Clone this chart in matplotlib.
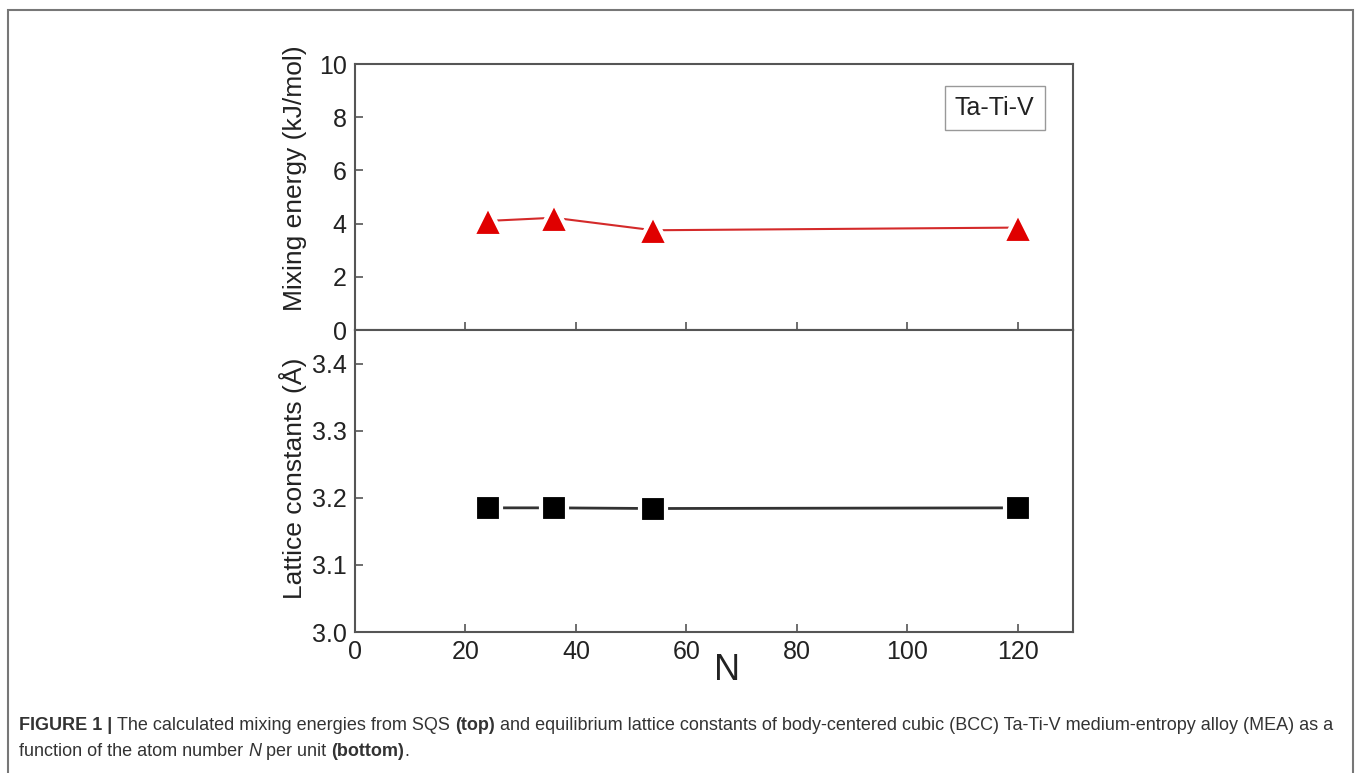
import matplotlib
matplotlib.use("Agg")
import matplotlib.pyplot as plt
from matplotlib.patches import Rectangle

plt.rcParams['font.family'] = ['Liberation Sans', 'DejaVu Sans']

# data
n_atoms = [24, 36, 54, 120]
mix_energy = [4.1, 4.22, 3.75, 3.85]        # kJ/mol
lattice_const = [3.185, 3.185, 3.184, 3.185]  # Angstrom

top_yticks = [0, 2, 4, 6, 8, 10]
bot_yticks = [3.0, 3.1, 3.2, 3.3, 3.4]
xticks = [0, 20, 40, 60, 80, 100, 120]

spine_c = '#555555'
txt_c = '#222222'

fig = plt.figure(figsize=(13.58, 7.73), dpi=100)

W, H = 1358, 773
def frac(x0, y0, x1, y1):
    return [x0 / W, 1 - y1 / H, (x1 - x0) / W, (y1 - y0) / H]

ax1 = fig.add_axes(frac(355, 64, 1073, 330))
ax2 = fig.add_axes(frac(355, 330, 1073, 632), sharex=ax1)

# top panel
ax1.plot(n_atoms, mix_energy, '-', color='#d42a2a', lw=1.5, zorder=2)
ax1.plot(n_atoms, mix_energy, '^', color='#e00000', ms=21, mec='white', mew=3, zorder=3)
ax1.set_ylim(0, 10)
ax1.set_yticks(top_yticks)
ax1.set_ylabel('Mixing energy (kJ/mol)', fontsize=19, color=txt_c)
ax1.yaxis.set_label_coords(-0.067, 0.57, transform=ax1.transAxes)
ax1.tick_params(axis='x', direction='in', length=6, width=1.2, colors=spine_c,
                labelbottom=False)
ax1.tick_params(axis='y', direction='in', length=6, width=1.2, colors=spine_c,
                labelsize=18, labelcolor=txt_c, pad=6)
ax1.text(0.891, 0.835, 'Ta-Ti-V', transform=ax1.transAxes, fontsize=18,
         color=txt_c, ha='center', va='center',
         bbox=dict(boxstyle='square,pad=0.4', fc='white', ec='#999999', lw=1))

# bottom panel
ax2.plot(n_atoms, lattice_const, '-', color='#333333', lw=2, zorder=2)
ax2.plot(n_atoms, lattice_const, 's', color='black', ms=19, mec='white', mew=3, zorder=3)
ax2.set_ylim(3.0, 3.45)
ax2.set_yticks(bot_yticks)
ax2.set_yticklabels(['%.1f' % v for v in bot_yticks])
ax2.set_xlim(0, 130)
ax2.set_xticks(xticks)
ax2.set_xlabel('N', fontsize=26, color=txt_c)
ax2.xaxis.set_label_coords(0.518, -0.07, transform=ax2.transAxes)
ax2.xaxis.label.set_va('top')
ax2.set_ylabel('Lattice constants (Å)', fontsize=19, color=txt_c)
ax2.yaxis.set_label_coords(-0.067, 0.51, transform=ax2.transAxes)
ax2.tick_params(axis='both', direction='in', length=6, width=1.2, colors=spine_c,
                labelsize=18, labelcolor=txt_c, pad=6)

for ax in (ax1, ax2):
    for s in ax.spines.values():
        s.set_color(spine_c)
        s.set_linewidth(1.5)

# the frame round the figure and caption
fig.add_artist(Rectangle((8 / W, -0.01), (1353 - 8) / W, 1 - 10 / H + 0.01,
                         transform=fig.transFigure, fill=False,
                         ec='#777777', lw=1.5))

# caption built out of pieces so bold/italic can mix
cap_fs = 13.0
lines = [
    [('FIGURE 1 | ', 'bold', 'normal'),
     ('The calculated mixing energies from SQS ', 'normal', 'normal'),
     ('(top)', 'bold', 'normal'),
     (' and equilibrium lattice constants of body-centered cubic (BCC) Ta-Ti-V '
      'medium-entropy alloy (MEA) as a', 'normal', 'normal')],
    [('function of the atom number ', 'normal', 'normal'),
     ('N', 'normal', 'italic'),
     (' per unit ', 'normal', 'normal'),
     ('(bottom)', 'bold', 'normal'),
     ('.', 'normal', 'normal')],
]
line_y = [725, 752]

renderer = fig.canvas.get_renderer()
for pieces, ypix in zip(lines, line_y):
    x = 19
    for s, weight, style in pieces:
        t = fig.text(x / W, 1 - ypix / H, s, fontsize=cap_fs, weight=weight,
                     style=style, color='#333333', va='center', ha='left')
        bb = t.get_window_extent(renderer=renderer)
        x += bb.width

fig.savefig('out.png', dpi=100)
